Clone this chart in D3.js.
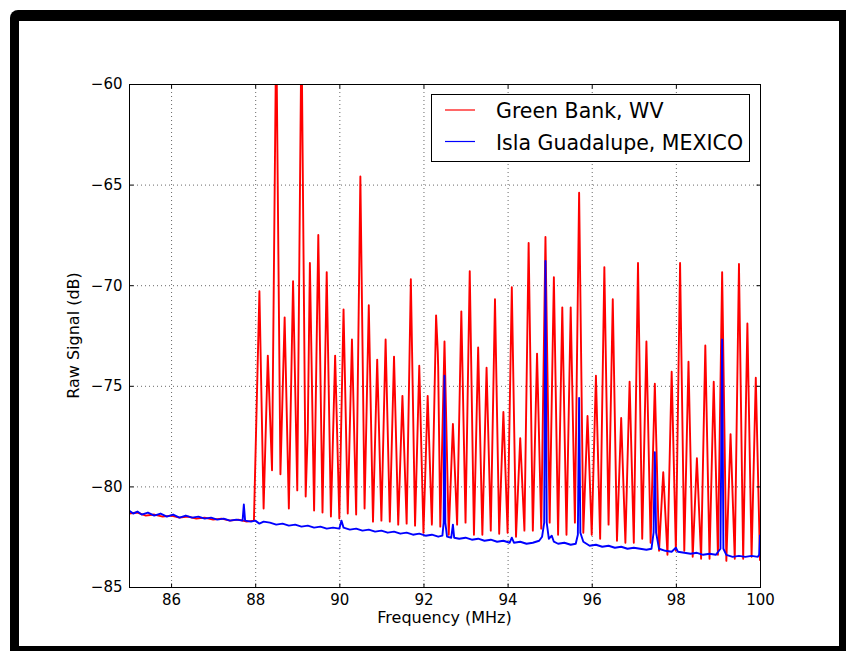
<!DOCTYPE html>
<html>
<head>
<meta charset="utf-8">
<script src="https://cdn.jsdelivr.net/npm/d3@7"></script>
<style>
  body { margin: 0; background: #fff; }
  svg text { font-family: "DejaVu Sans", sans-serif; fill: #000; }
</style>
</head>
<body>
<div id="graph"></div>
<script>
// FM stations (MHz) and the Green Bank peak levels (dB)
const stations = [88.1, 88.3, 88.5, 88.7, 88.9, 89.1, 89.3, 89.5, 89.7, 89.9,
                  90.1, 90.3, 90.5, 90.7, 90.9, 91.1, 91.3, 91.5, 91.7, 91.9,
                  92.1, 92.3, 92.5, 92.7, 92.9, 93.1, 93.3, 93.5, 93.7, 93.9,
                  94.1, 94.3, 94.5, 94.7, 94.9, 95.1, 95.3, 95.5, 95.7, 95.9,
                  96.1, 96.3, 96.5, 96.7, 96.9, 97.1, 97.3, 97.5, 97.7, 97.9,
                  98.1, 98.3, 98.5, 98.7, 98.9, 99.1, 99.3, 99.5, 99.7, 99.9];
const redPeakDb = [-70.3, -73.5, -57.0, -71.6, -69.8, -57.0, -68.9, -67.5, -69.35, -73.5,
                   -71.2, -72.7, -64.6, -71.0, -73.7, -72.7, -73.55, -75.5, -69.7, -74.0,
                   -75.5, -71.5, -72.8, -76.9, -71.3, -69.3, -73.1, -74.1, -70.7, -76.3,
                   -70.1, -77.6, -67.9, -73.4, -67.6, -69.6, -71.1, -71.1, -65.4, -76.5,
                   -74.5, -69.1, -70.7, -76.6, -74.8, -68.9, -72.8, -74.9, -79.3, -74.3,
                   -68.9, -73.8, -78.6, -73.0, -74.8, -69.35, -77.4, -68.95, -71.9, -74.6];
// valleys between the stations [MHz, dB]
const redTroughs = [[88.2, -81.1], [88.4, -79.2], [88.6, -79.4], [88.8, -81.1], [89.0, -80.2],
                    [89.2, -80.5], [89.4, -81.2], [89.6, -81.3], [89.8, -81.5], [90.0, -81.6],
                    [90.2, -81.35], [90.4, -81.4], [90.6, -81.1], [90.8, -81.75], [91.0, -81.7],
                    [91.2, -81.75], [91.4, -81.9], [91.6, -81.85], [91.8, -81.95], [92.0, -82.3],
                    [92.2, -81.9], [92.4, -82.0], [92.6, -82.4], [92.8, -81.9], [93.0, -81.8],
                    [93.2, -82.4], [93.4, -82.4], [93.6, -82.2], [93.8, -82.35], [94.0, -82.3],
                    [94.2, -82.5], [94.4, -82.2], [94.6, -82.2], [94.8, -82.1], [95.0, -81.8],
                    [95.2, -82.4], [95.4, -82.4], [95.6, -81.8], [95.8, -82.3], [96.0, -82.4],
                    [96.2, -82.6], [96.4, -81.9], [96.6, -82.7], [96.8, -82.8], [97.0, -82.8],
                    [97.2, -82.6], [97.4, -82.8], [97.6, -83.2], [97.8, -83.4], [98.0, -83.2],
                    [98.2, -83.2], [98.4, -83.5], [98.6, -83.6], [98.8, -83.6], [99.0, -83.4],
                    [99.2, -83.7], [99.4, -83.6], [99.6, -83.6], [99.8, -83.5], [100.0, -83.7]];
// floor below 88 MHz and a few kinks on the sides of peaks
const redBase = [[85.0, -81.35], [85.2, -81.3], [85.4, -81.45], [85.6, -81.4], [85.8, -81.5],
                 [86.0, -81.45], [86.2, -81.55], [86.4, -81.5], [86.6, -81.6], [86.8, -81.55],
                 [87.0, -81.65], [87.2, -81.6], [87.4, -81.7], [87.6, -81.65], [87.8, -81.75],
                 [87.97, -81.7]];
const redExtra = [[89.25, -77.2], [92.32, -72.4], [92.34, -73.3], [92.35, -74.1]];

// Isla Guadalupe trace [MHz, dB]
const blueTrace = [[85.0, -81.2], [85.1, -81.35], [85.2, -81.25], [85.3, -81.4], [85.45, -81.3],
  [85.6, -81.45], [85.75, -81.35], [85.9, -81.5], [86.05, -81.4], [86.2, -81.55], [86.35, -81.45],
  [86.5, -81.55], [86.65, -81.5], [86.8, -81.6], [86.95, -81.55], [87.1, -81.65], [87.25, -81.6],
  [87.4, -81.7], [87.55, -81.65], [87.7, -81.7], [87.73, -80.9], [87.76, -81.7], [87.9, -81.75],
  [88.0, -81.7], [88.1, -81.85], [88.2, -81.75], [88.35, -81.8], [88.5, -81.9], [88.65, -81.85],
  [88.8, -81.95], [88.95, -81.9], [89.1, -82.0], [89.25, -81.95], [89.4, -82.05], [89.55, -82.0],
  [89.7, -82.1], [89.85, -82.05], [90.0, -82.1], [90.05, -81.7], [90.1, -82.05], [90.25, -82.15],
  [90.4, -82.1], [90.55, -82.2], [90.7, -82.15], [90.85, -82.25], [91.0, -82.2], [91.15, -82.3],
  [91.3, -82.25], [91.45, -82.35], [91.6, -82.3], [91.75, -82.4], [91.9, -82.35], [92.05, -82.45],
  [92.2, -82.4], [92.35, -82.5], [92.45, -82.45], [92.48, -81.8], [92.5, -74.5], [92.52, -81.8],
  [92.56, -82.5], [92.66, -82.55], [92.7, -81.9], [92.73, -82.55], [92.85, -82.6], [93.0, -82.55],
  [93.15, -82.65], [93.3, -82.6], [93.45, -82.7], [93.6, -82.65], [93.75, -82.75], [93.9, -82.7],
  [94.05, -82.8], [94.1, -82.55], [94.15, -82.8], [94.3, -82.75], [94.45, -82.85], [94.6, -82.8],
  [94.75, -82.7], [94.82, -82.5], [94.87, -81.8], [94.9, -68.8], [94.93, -81.8], [94.98, -82.6],
  [95.05, -82.45], [95.1, -82.75], [95.2, -82.85], [95.35, -82.8], [95.5, -82.9], [95.62, -82.85],
  [95.67, -82.4], [95.7, -75.6], [95.73, -82.3], [95.8, -82.75], [95.95, -82.95], [96.1, -82.9],
  [96.25, -83.0], [96.4, -82.95], [96.55, -83.05], [96.7, -83.0], [96.85, -83.1], [97.0, -83.05],
  [97.15, -83.1], [97.3, -83.15], [97.42, -83.1], [97.47, -82.3], [97.5, -78.3], [97.53, -82.3],
  [97.6, -83.1], [97.75, -83.2], [97.9, -83.25], [98.0, -83.05], [98.05, -83.25], [98.2, -83.3],
  [98.35, -83.35], [98.5, -83.3], [98.65, -83.4], [98.8, -83.35], [98.95, -83.4], [99.06, -83.1],
  [99.1, -72.7], [99.13, -83.1], [99.2, -83.4], [99.35, -83.5], [99.5, -83.45], [99.65, -83.5],
  [99.8, -83.45], [99.95, -83.5], [99.98, -83.4], [100.0, -82.4]];

const xTicks = [86, 88, 90, 92, 94, 96, 98, 100];
const yTicks = [-85, -80, -75, -70, -65, -60];
const legendLabels = ["Green Bank, WV", "Isla Guadalupe, MEXICO"];
const colors = ["#ff0000", "#0000ff"];

// assemble the red trace: floor, then peak / valley pairs
let redTrace = redBase.slice();
stations.forEach((f, i) => {
  redTrace.push([f, redPeakDb[i]]);
  redTrace.push(redTroughs[i]);
});
redTrace = redTrace.concat(redExtra).sort((a, b) => a[0] - b[0]);

let W = 846, H = 651;
let plot = {left: 129, right: 760, top: 84, bottom: 587};

let svg = d3.select("#graph")
  .append("svg")
  .attr("width", W)
  .attr("height", H);

// black frame round the figure
svg.append("rect")
  .attr("x", 10).attr("y", 10).attr("width", W + 20).attr("height", H + 20)
  .attr("rx", 8).attr("fill", "#000");
svg.append("rect")
  .attr("x", 19).attr("y", 21).attr("width", 820).attr("height", 625)
  .attr("fill", "#fff");

let x = d3.scaleLinear().domain([85, 100]).range([plot.left, plot.right]);
let y = d3.scaleLinear().domain([-85, -60]).range([plot.bottom, plot.top]);

// dotted grid
svg.append("g")
  .selectAll("line")
  .data(xTicks.filter(d => d < 100))
  .join("line")
  .attr("x1", d => x(d) + 0.5).attr("x2", d => x(d) + 0.5)
  .attr("y1", plot.top).attr("y2", plot.bottom)
  .attr("stroke", "#000").attr("stroke-width", 0.6).attr("stroke-dasharray", "1,3");
svg.append("g")
  .selectAll("line")
  .data(yTicks.filter(d => d > -85 && d < -60))
  .join("line")
  .attr("y1", d => y(d) + 0.5).attr("y2", d => y(d) + 0.5)
  .attr("x1", plot.left).attr("x2", plot.right)
  .attr("stroke", "#000").attr("stroke-width", 0.6).attr("stroke-dasharray", "1,3");

svg.append("clipPath").attr("id", "plotclip")
  .append("rect")
  .attr("x", plot.left).attr("y", plot.top)
  .attr("width", plot.right - plot.left).attr("height", plot.bottom - plot.top);

let line = d3.line().x(d => x(d[0])).y(d => y(d[1]));

svg.append("path")
  .datum(redTrace)
  .attr("clip-path", "url(#plotclip)")
  .attr("d", line)
  .attr("fill", "none").attr("stroke", colors[0]).attr("stroke-width", 1.9)
  .attr("stroke-linejoin", "round");

svg.append("path")
  .datum(blueTrace)
  .attr("clip-path", "url(#plotclip)")
  .attr("d", line)
  .attr("fill", "none").attr("stroke", colors[1]).attr("stroke-width", 1.9)
  .attr("stroke-linejoin", "round");

// axes, ticks pointing inwards on all four sides
let fmt = d3.format("d");
svg.append("g")
  .attr("transform", "translate(0," + (plot.bottom + 0.5) + ")")
  .call(d3.axisBottom(x).tickValues(xTicks).tickSize(-4).tickPadding(7).tickFormat(fmt))
  .call(g => g.select(".domain").remove())
  .call(g => g.selectAll("text").attr("font-size", 15).attr("font-family", "DejaVu Sans"));
svg.append("g")
  .attr("transform", "translate(0," + (plot.top + 0.5) + ")")
  .call(d3.axisTop(x).tickValues(xTicks).tickSize(-4).tickFormat(""))
  .call(g => g.select(".domain").remove());
svg.append("g")
  .attr("transform", "translate(" + (plot.left + 0.5) + ",0)")
  .call(d3.axisLeft(y).tickValues(yTicks).tickSize(-4).tickPadding(7).tickFormat(fmt))
  .call(g => g.select(".domain").remove())
  .call(g => g.selectAll("text").attr("font-size", 15).attr("font-family", "DejaVu Sans"));
svg.append("g")
  .attr("transform", "translate(" + (plot.right + 0.5) + ",0)")
  .call(d3.axisRight(y).tickValues(yTicks).tickSize(-4).tickFormat(""))
  .call(g => g.select(".domain").remove());

svg.append("rect")
  .attr("x", plot.left + 0.5).attr("y", plot.top + 0.5)
  .attr("width", plot.right - plot.left).attr("height", plot.bottom - plot.top)
  .attr("fill", "none").attr("stroke", "#000").attr("stroke-width", 1);

// axis labels
svg.append("text")
  .attr("x", (plot.left + plot.right) / 2).attr("y", 623)
  .attr("text-anchor", "middle").attr("font-size", 16)
  .text("Frequency (MHz)");
svg.append("text")
  .attr("transform", "translate(79," + ((plot.top + plot.bottom) / 2) + ") rotate(-90)")
  .attr("text-anchor", "middle").attr("font-size", 16)
  .text("Raw Signal (dB)");

// legend
let lg = svg.append("g");
lg.append("rect")
  .attr("x", 431.5).attr("y", 94.5).attr("width", 318).attr("height", 67)
  .attr("fill", "#fff").attr("stroke", "#000").attr("stroke-width", 1);
legendLabels.forEach((lab, i) => {
  let yy = 110 + i * 31.5;
  lg.append("line")
    .attr("x1", 445).attr("x2", 475).attr("y1", yy).attr("y2", yy)
    .attr("stroke", colors[i]).attr("stroke-width", 1.2);
  lg.append("text")
    .attr("x", 496).attr("y", yy + 8)
    .attr("font-size", 20.5)
    .text(lab);
});
</script>
</body>
</html>
